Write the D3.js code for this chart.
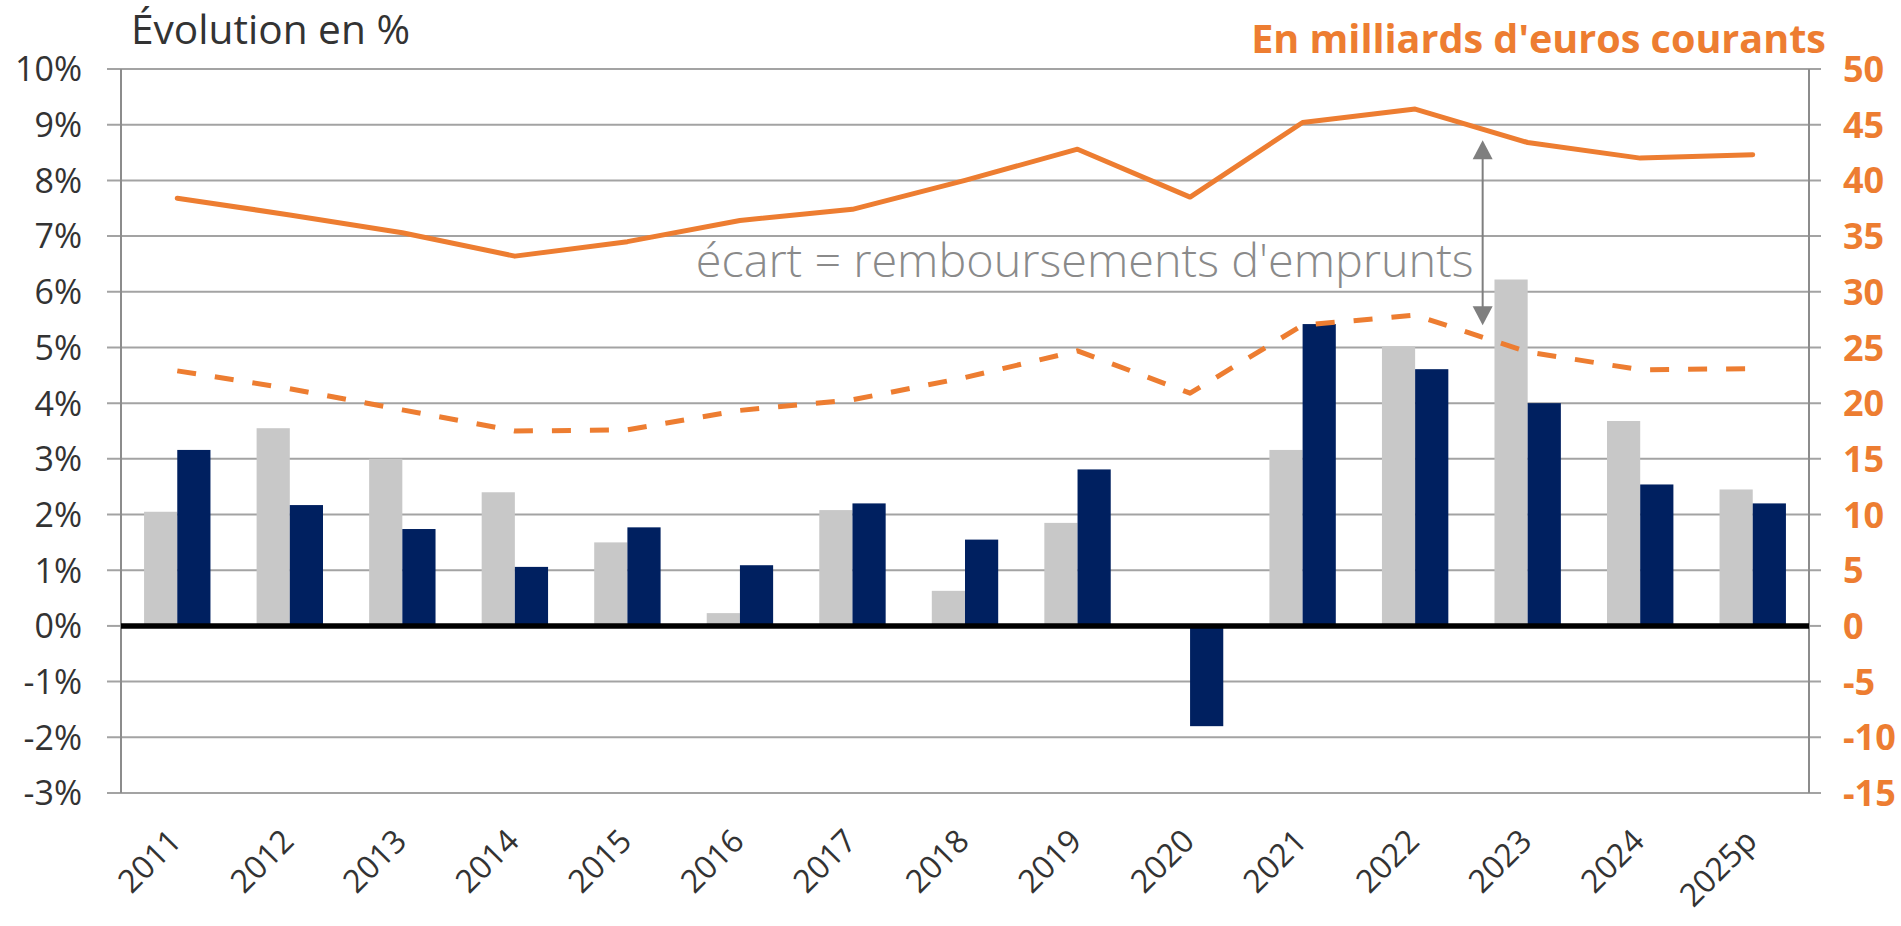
<!DOCTYPE html>
<html>
<head>
<meta charset="utf-8">
<script src="https://cdn.jsdelivr.net/npm/d3@7"></script>
<style>
  html, body { margin: 0; padding: 0; background: #ffffff; }
  svg { display: block; }
  text { font-family: "Open Sans", "Noto Sans", sans-serif; }
</style>
</head>
<body>
<svg id="chart" width="1901" height="926"></svg>
<script>
// ---------- DATA ----------
const categories = ["2011","2012","2013","2014","2015","2016","2017","2018","2019","2020","2021","2022","2023","2024","2025p"];
// Évolution en % (left axis)
const seriesGrey = [2.05, 3.55, 3.0, 2.4, 1.5, 0.23, 2.08, 0.63, 1.85, 0, 3.16, 5.02, 6.22, 3.68, 2.45];
const seriesNavy = [3.16, 2.17, 1.74, 1.06, 1.77, 1.09, 2.2, 1.55, 2.81, -1.8, 5.42, 4.61, 4.0, 2.54, 2.2];
// En milliards d'euros courants (right axis)
const lineSolid  = [38.4, 36.9, 35.3, 33.2, 34.5, 36.4, 37.4, 40.0, 42.8, 38.5, 45.2, 46.4, 43.4, 42.0, 42.3];
const lineDashed = [22.9, 21.3, 19.4, 17.5, 17.6, 19.35, 20.3, 22.3, 24.7, 20.9, 27.0, 27.9, 24.6, 23.0, 23.1];
const leftTicks  = [-3,-2,-1,0,1,2,3,4,5,6,7,8,9,10];
const rightTicks = [-15,-10,-5,0,5,10,15,20,25,30,35,40,45,50];
const leftTitle  = "Évolution en %";
const rightTitle = "En milliards d'euros courants";
const annotationText = "écart = remboursements d'emprunts";
// annotation arrow: between 2022 and 2023, from solid line level to dashed line level
const arrowBetween = ["2022", "2023"];
const arrowFraction = 0.6;
const arrowTop = 43.6, arrowBottom = 27.0;

// ---------- STYLE ----------
const COL_GREY = "#C8C8C8", COL_NAVY = "#002060", COL_ORANGE = "#ED7D31";
const COL_GRID = "#A3A3A3", COL_AXIS = "#8C8C8C", COL_TEXT = "#333333", COL_ANN = "#8A8A8A";

const svg = d3.select("#chart");
const pLeft = 121, pRight = 1809, pTop = 69, pBottom = 793;

const x = d3.scaleBand().domain(categories).range([pLeft, pRight]).paddingInner(0.41).paddingOuter(0.205);
const xSub = d3.scaleBand().domain(["grey","navy"]).range([0, x.bandwidth()]);
const xc = c => x(c) + x.bandwidth() / 2;
const yL = d3.scaleLinear().domain([-3, 10]).range([pBottom, pTop]);
const yR = d3.scaleLinear().domain([-15, 50]).range([pBottom, pTop]);

function fitText(sel, targetWidth) {
  const node = sel.node();
  const fs = parseFloat(sel.attr("font-size"));
  const w = node.getComputedTextLength();
  if (w > 0) sel.attr("font-size", (fs * targetWidth / w).toFixed(2));
}

// gridlines
svg.append("g").selectAll("line").data(leftTicks.filter(d => d !== 0)).join("line")
  .attr("x1", pLeft - 14).attr("x2", pRight + 12)
  .attr("y1", d => yL(d)).attr("y2", d => yL(d))
  .attr("stroke", COL_GRID).attr("stroke-width", 2);
svg.append("line").attr("x1", pLeft - 14).attr("x2", pLeft).attr("y1", yL(0)).attr("y2", yL(0)).attr("stroke", COL_GRID).attr("stroke-width", 2);
svg.append("line").attr("x1", pRight).attr("x2", pRight + 12).attr("y1", yL(0)).attr("y2", yL(0)).attr("stroke", COL_GRID).attr("stroke-width", 2);

// bars
const barData = [];
categories.forEach((c, i) => {
  barData.push({c, key: "grey", v: seriesGrey[i]});
  barData.push({c, key: "navy", v: seriesNavy[i]});
});
svg.append("g").selectAll("rect").data(barData).join("rect")
  .attr("x", d => x(d.c) + xSub(d.key))
  .attr("width", xSub.bandwidth())
  .attr("y", d => yL(Math.max(0, d.v)))
  .attr("height", d => Math.abs(yL(d.v) - yL(0)))
  .attr("fill", d => d.key === "grey" ? COL_GREY : COL_NAVY);

// axis lines
svg.append("line").attr("x1", pLeft).attr("x2", pLeft).attr("y1", pTop).attr("y2", pBottom).attr("stroke", COL_AXIS).attr("stroke-width", 2);
svg.append("line").attr("x1", pRight).attr("x2", pRight).attr("y1", pTop).attr("y2", pBottom).attr("stroke", COL_AXIS).attr("stroke-width", 2);

// zero line
svg.append("line").attr("x1", pLeft).attr("x2", pRight).attr("y1", yL(0)).attr("y2", yL(0))
  .attr("stroke", "#000000").attr("stroke-width", 5.5);

// lines (right axis)
const lineGen = d3.line().x(d => xc(d.c)).y(d => yR(d.v));
svg.append("path")
  .datum(categories.map((c, i) => ({c, v: lineDashed[i]})))
  .attr("d", lineGen).attr("fill", "none").attr("stroke", COL_ORANGE)
  .attr("stroke-width", 5).attr("stroke-dasharray", "19,19").attr("stroke-linejoin", "round");
svg.append("path")
  .datum(categories.map((c, i) => ({c, v: lineSolid[i]})))
  .attr("d", lineGen).attr("fill", "none").attr("stroke", COL_ORANGE)
  .attr("stroke-width", 5).attr("stroke-linejoin", "round").attr("stroke-linecap", "round");

// left axis labels
const axL = svg.append("g").attr("transform", `translate(${pLeft},0)`)
  .call(d3.axisLeft(yL).tickValues(leftTicks).tickSize(0).tickPadding(39).tickFormat(d => d + "%"));
axL.select(".domain").remove();
axL.selectAll("text").attr("font-size", 34).attr("fill", COL_TEXT)
  .style("font-family", "'Open Sans', sans-serif").attr("dy", "0.35em");

// right axis labels
const axR = svg.append("g").attr("transform", `translate(${pRight},0)`)
  .call(d3.axisRight(yR).tickValues(rightTicks).tickSize(0).tickPadding(34).tickFormat(d => String(d)));
axR.select(".domain").remove();
axR.selectAll("text").attr("font-size", 36).attr("font-weight", 700).attr("fill", COL_ORANGE)
  .style("font-family", "'Open Sans', sans-serif").attr("dy", "0.35em");

// x axis labels (rotated)
svg.append("g").selectAll("text").data(categories).join("text")
  .attr("transform", c => `translate(${xc(c) + 6},${pBottom + 50}) rotate(-45)`)
  .attr("text-anchor", "end")
  .attr("font-size", 32).attr("fill", COL_TEXT)
  .text(c => c);

// titles
const t1 = svg.append("text").attr("x", 131).attr("y", 44).attr("font-size", 34).attr("fill", COL_TEXT).text(leftTitle);
fitText(t1, 279);
const t2 = svg.append("text").attr("x", 1826).attr("y", 53).attr("text-anchor", "end")
  .attr("font-size", 34).attr("font-weight", 700).attr("fill", COL_ORANGE).text(rightTitle);
fitText(t2, 575);

// annotation arrow
const xA = xc(arrowBetween[0]) + arrowFraction * (xc(arrowBetween[1]) - xc(arrowBetween[0]));
const yTop = yR(arrowTop), yBot = yR(arrowBottom);
const headL = 19, headW = 10;
svg.append("line").attr("x1", xA).attr("x2", xA).attr("y1", yTop + headL - 2).attr("y2", yBot - headL + 2)
  .attr("stroke", "#7F7F7F").attr("stroke-width", 2);
svg.append("path").attr("d", `M${xA},${yTop} L${xA - headW},${yTop + headL} L${xA + headW},${yTop + headL} Z`).attr("fill", "#7F7F7F");
svg.append("path").attr("d", `M${xA},${yBot} L${xA - headW},${yBot - headL} L${xA + headW},${yBot - headL} Z`).attr("fill", "#7F7F7F");

// annotation text
const ta = svg.append("text").attr("x", xA - 9).attr("y", yR(31.3)).attr("text-anchor", "end")
  .attr("font-size", 40).attr("font-weight", 300).attr("fill", COL_ANN).text(annotationText);
fitText(ta, 778);
</script>
</body>
</html>
